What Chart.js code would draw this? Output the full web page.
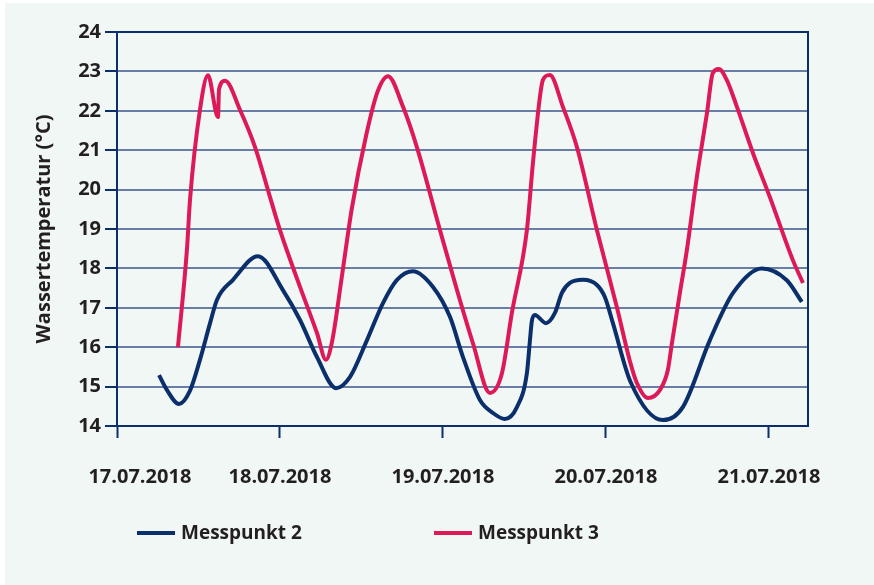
<!DOCTYPE html>
<html>
<head>
<meta charset="utf-8">
<script src="https://cdn.jsdelivr.net/npm/chart.js@4"></script>
<style>
  html, body { margin: 0; padding: 0; background: #ffffff; }
  #wrap { width: 874px; height: 585px; position: relative; }
</style>
</head>
<body>
<div id="wrap"><canvas id="tempChart"></canvas></div>
<script>
// Tage ab 17.07.2018 00:00
const dateLabels = ['17.07.2018', '18.07.2018', '19.07.2018', '20.07.2018', '21.07.2018'];

const m2Days = [0.258, 0.307, 0.380, 0.448, 0.509, 0.571, 0.613, 0.712, 0.865, 1.018, 1.123, 1.227, 1.344, 1.429,
    1.534, 1.632, 1.718, 1.816, 1.939, 2.043, 2.123, 2.227, 2.307, 2.380, 2.454, 2.515, 2.534, 2.545, 2.564, 2.632,
    2.687, 2.730, 2.779, 2.859, 2.945, 2.994, 3.043, 3.150, 3.350, 3.472, 3.638, 3.779, 3.957, 4.110, 4.202];
const m2Temp = [15.29, 14.91, 14.56, 14.90, 15.68, 16.61, 17.20, 17.71, 18.31, 17.45, 16.69, 15.75, 14.96, 15.24,
    16.18, 17.12, 17.71, 17.93, 17.53, 16.77, 15.75, 14.66, 14.33, 14.18, 14.48, 15.34, 16.18, 16.65, 16.82, 16.61,
    16.87, 17.38, 17.63, 17.71, 17.58, 17.27, 16.61, 15.13, 14.15, 14.48, 16.18, 17.37, 18.00, 17.70, 17.15];

const m3Days = [0.374, 0.429, 0.448, 0.509, 0.558, 0.620, 0.626, 0.663, 0.755, 0.847, 0.939, 1.000, 1.123, 1.227,
    1.282, 1.320, 1.380, 1.440, 1.530, 1.600, 1.663, 1.755, 1.840, 1.982, 2.086, 2.184, 2.288, 2.362, 2.423,
    2.515, 2.552, 2.595, 2.613, 2.656, 2.736, 2.822, 2.945, 3.067, 3.147, 3.190, 3.258, 3.331, 3.380, 3.405,
    3.454, 3.497, 3.558, 3.620, 3.656, 3.693, 3.742, 3.804, 3.902, 4.006, 4.147, 4.209];
const m3Temp = [16.00, 18.47, 19.74, 22.02, 22.90, 21.84, 22.55, 22.76, 22.02, 21.08, 19.81, 18.97, 17.53, 16.36,
    15.68, 16.15, 17.80, 19.50, 21.40, 22.50, 22.88, 22.10, 21.08, 18.97, 17.45, 16.10, 14.84, 15.34, 16.87,
    18.97, 20.67, 22.35, 22.78, 22.91, 22.10, 21.08, 18.97, 17.02, 15.65, 15.09, 14.71, 14.91, 15.42, 16.10,
    17.38, 18.47, 20.32, 21.94, 22.96, 23.06, 22.78, 22.10, 20.93, 19.81, 18.21, 17.63];

const yMin = 14, yMax = 24;

const navy = '#0c2e6b';
const gridBlue = '#6a7da6';
const textColor = '#231f20';
const fontFamily = '"Open Sans", Lato, sans-serif';

// Hintergrund, Rahmen und Legende
const panelPlugin = {
    id: 'panel',
    beforeDraw(chart) {
        const ctx = chart.ctx;
        ctx.save();
        ctx.fillStyle = '#ffffff';
        ctx.fillRect(0, 0, chart.width, chart.height);
        ctx.fillStyle = '#f0f7f5';
        ctx.fillRect(5, 3, chart.width - 5, chart.height - 3);
        ctx.restore();
    },
    beforeDatasetsDraw(chart) {
        const {ctx, chartArea: a} = chart;
        ctx.save();
        ctx.strokeStyle = navy;
        ctx.lineWidth = 2;
        ctx.strokeRect(a.left, a.top, a.right - a.left, a.bottom - a.top);
        ctx.restore();
    },
    afterDraw(chart) {
        const ctx = chart.ctx;
        const starts = [137, 434];
        const y = 533;
        ctx.save();
        ctx.font = 'bold 19px ' + fontFamily;
        ctx.textBaseline = 'middle';
        chart.data.datasets.forEach((ds, i) => {
            const x = starts[i];
            ctx.strokeStyle = ds.borderColor;
            ctx.lineWidth = 4;
            ctx.beginPath();
            ctx.moveTo(x, y);
            ctx.lineTo(x + 38, y);
            ctx.stroke();
            ctx.fillStyle = textColor;
            ctx.fillText(ds.label, x + 44, y + 1);
        });
        ctx.restore();
    }
};

new Chart(document.getElementById('tempChart'), {
    type: 'line',
    data: {
        datasets: [{
            label: 'Messpunkt 2',
            data: m2Days.map((d, i) => ({x: d, y: m2Temp[i]})),
            borderColor: '#0b2f6a',
            backgroundColor: '#0b2f6a',
            borderWidth: 4,
            pointRadius: 0,
            cubicInterpolationMode: 'monotone'
        }, {
            label: 'Messpunkt 3',
            data: m3Days.map((d, i) => ({x: d, y: m3Temp[i]})),
            borderColor: '#dd1a57',
            backgroundColor: '#dd1a57',
            borderWidth: 4,
            pointRadius: 0,
            cubicInterpolationMode: 'monotone'
        }]
    },
    options: {
        responsive: true,
        maintainAspectRatio: false,
        animation: false,
        layout: {
            padding: {top: 32, right: 66, left: 0, bottom: 0}
        },
        scales: {
            x: {
                type: 'linear',
                min: 0,
                max: 4.24,
                afterFit: s => { s.height = 159; },
                border: {display: true, color: navy, width: 2},
                grid: {
                    drawOnChartArea: false,
                    tickLength: 12,
                    tickColor: navy,
                    tickWidth: 2
                },
                ticks: {
                    stepSize: 1,
                    includeBounds: false,
                    autoSkip: false,
                    maxRotation: 0,
                    padding: 27,
                    color: textColor,
                    font: {family: fontFamily, size: 20, weight: 'bold'},
                    callback: v => (v === 0 ? '\u2007\u2007\u2007\u2007' : '') + (dateLabels[v] || '')
                }
            },
            y: {
                min: yMin,
                max: yMax,
                afterFit: s => { s.width = 117; },
                border: {display: true, color: navy, width: 2},
                grid: {
                    color: gridBlue,
                    lineWidth: 2,
                    tickLength: 12,
                    tickColor: navy,
                    tickWidth: 2
                },
                ticks: {
                    stepSize: 1,
                    padding: 4,
                    color: textColor,
                    font: {family: fontFamily, size: 20, weight: 'bold'}
                },
                title: {
                    display: true,
                    text: 'Wassertemperatur (°C)',
                    color: textColor,
                    padding: {top: 32, bottom: 0},
                    font: {family: fontFamily, size: 20, weight: 'bold'}
                }
            }
        },
        plugins: {
            legend: {display: false},
            tooltip: {enabled: false}
        }
    },
    plugins: [panelPlugin]
});
</script>
</body>
</html>
